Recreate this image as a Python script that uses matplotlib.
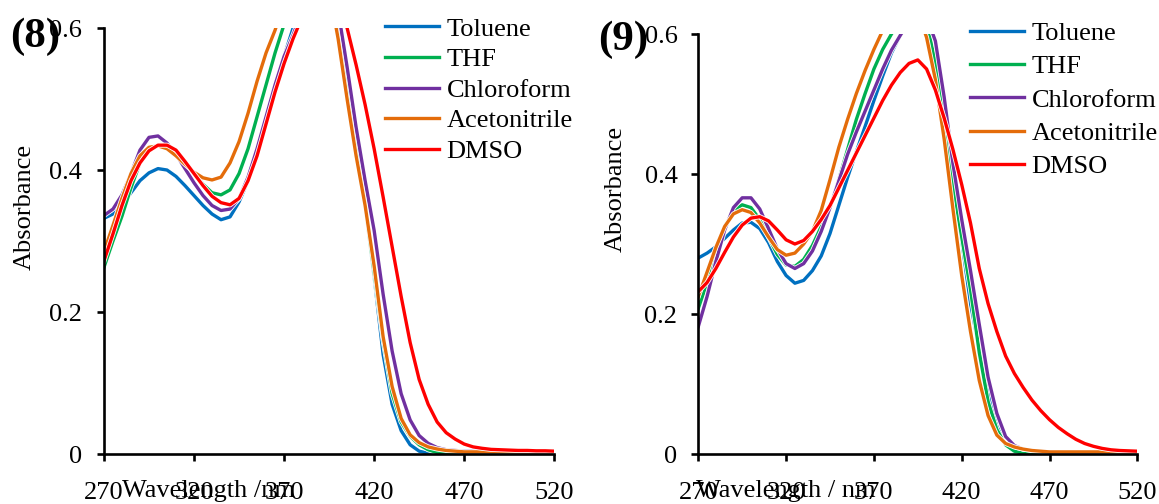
import numpy as np
import matplotlib
matplotlib.use("Agg")
import matplotlib.pyplot as plt
import matplotlib.patheffects as pe

plt.rcParams['font.family'] = ['Liberation Serif', 'DejaVu Serif']
plt.rcParams['font.size'] = 19

# wavelength grid (nm)
wl = np.arange(270, 521, 5)

solvents = ['Toluene', 'THF', 'Chloroform', 'Acetonitrile', 'DMSO']
colors = ['#0070C0', '#00B050', '#7030A0', '#E46C0A', '#FF0000']

# ---- compound (8) ----
tol_8 = [0.332, 0.338, 0.350, 0.368, 0.385, 0.396, 0.402, 0.400, 0.391, 0.378,
         0.364, 0.350, 0.338, 0.330, 0.334, 0.355, 0.385, 0.430, 0.475, 0.520,
         0.560, 0.600, 0.635, 0.660, 0.670, 0.655, 0.600, 0.515, 0.435, 0.350,
         0.250, 0.140, 0.070, 0.033, 0.013, 0.004, 0.001, 0.000, 0.000, 0.000,
         0.000, 0.000, 0.000, 0.000, 0.000, 0.000, 0.000, 0.000, 0.000, 0.000, 0.000]
thf_8 = [0.263, 0.300, 0.335, 0.375, 0.410, 0.430, 0.435, 0.433, 0.425, 0.410,
         0.395, 0.380, 0.368, 0.365, 0.372, 0.395, 0.430, 0.475, 0.520, 0.565,
         0.605, 0.645, 0.680, 0.700, 0.700, 0.670, 0.605, 0.520, 0.435, 0.350,
         0.255, 0.160, 0.085, 0.045, 0.025, 0.013, 0.006, 0.002, 0.001, 0.000,
         0.000, 0.000, 0.000, 0.000, 0.000, 0.000, 0.000, 0.000, 0.000, 0.000, 0.000]
chl_8 = [0.336, 0.345, 0.365, 0.395, 0.428, 0.446, 0.448, 0.438, 0.422, 0.402,
         0.382, 0.364, 0.350, 0.343, 0.345, 0.360, 0.390, 0.430, 0.475, 0.520,
         0.560, 0.590, 0.625, 0.655, 0.670, 0.665, 0.625, 0.545, 0.460, 0.385,
         0.315, 0.225, 0.145, 0.085, 0.048, 0.026, 0.015, 0.009, 0.006, 0.005,
         0.004, 0.004, 0.004, 0.004, 0.004, 0.004, 0.004, 0.004, 0.004, 0.004, 0.004]
ace_8 = [0.285, 0.322, 0.360, 0.395, 0.420, 0.432, 0.434, 0.430, 0.420, 0.408,
         0.397, 0.389, 0.386, 0.390, 0.410, 0.440, 0.480, 0.525, 0.565, 0.597,
         0.635, 0.670, 0.690, 0.700, 0.690, 0.655, 0.585, 0.500, 0.420, 0.350,
         0.265, 0.165, 0.095, 0.050, 0.027, 0.016, 0.010, 0.007, 0.005, 0.004,
         0.003, 0.003, 0.003, 0.003, 0.003, 0.003, 0.003, 0.003, 0.003, 0.003, 0.003]
dms_8 = [0.272, 0.310, 0.350, 0.385, 0.410, 0.427, 0.435, 0.435, 0.428, 0.412,
         0.395, 0.378, 0.363, 0.354, 0.351, 0.360, 0.385, 0.420, 0.465, 0.510,
         0.550, 0.585, 0.615, 0.640, 0.655, 0.655, 0.640, 0.600, 0.548, 0.492,
         0.430, 0.362, 0.292, 0.222, 0.157, 0.105, 0.070, 0.045, 0.030, 0.021,
         0.014, 0.010, 0.008, 0.0065, 0.006, 0.0055, 0.005, 0.005, 0.0045, 0.0045, 0.004]

# ---- compound (9) ----
tol_9 = [0.280, 0.287, 0.296, 0.308, 0.320, 0.330, 0.331, 0.322, 0.302, 0.275,
         0.255, 0.244, 0.248, 0.262, 0.283, 0.315, 0.355, 0.395, 0.432, 0.468,
         0.505, 0.540, 0.573, 0.598, 0.618, 0.625, 0.610, 0.565, 0.490, 0.400,
         0.305, 0.215, 0.150, 0.087, 0.040, 0.014, 0.003, 0.0005, 0.000, 0.000,
         0.000, 0.000, 0.000, 0.000, 0.000, 0.000, 0.000, 0.000, 0.000, 0.000, 0.000]
thf_9 = [0.208, 0.245, 0.290, 0.325, 0.347, 0.356, 0.352, 0.335, 0.310, 0.285,
         0.270, 0.268, 0.278, 0.298, 0.325, 0.352, 0.392, 0.435, 0.478, 0.515,
         0.550, 0.578, 0.600, 0.620, 0.635, 0.635, 0.615, 0.560, 0.475, 0.385,
         0.310, 0.235, 0.145, 0.075, 0.035, 0.013, 0.004, 0.001, 0.000, 0.000,
         0.000, 0.000, 0.000, 0.000, 0.000, 0.000, 0.000, 0.000, 0.000, 0.000, 0.000]
chl_9 = [0.182, 0.225, 0.275, 0.320, 0.352, 0.366, 0.366, 0.350, 0.322, 0.293,
         0.272, 0.265, 0.272, 0.290, 0.318, 0.352, 0.390, 0.428, 0.460, 0.490,
         0.520, 0.550, 0.577, 0.598, 0.618, 0.630, 0.625, 0.590, 0.510, 0.415,
         0.335, 0.262, 0.185, 0.110, 0.058, 0.025, 0.012, 0.007, 0.005, 0.004,
         0.003, 0.003, 0.003, 0.003, 0.003, 0.003, 0.003, 0.003, 0.003, 0.003, 0.003]
ace_9 = [0.225, 0.260, 0.295, 0.325, 0.343, 0.349, 0.345, 0.330, 0.310, 0.292,
         0.284, 0.287, 0.300, 0.318, 0.348, 0.392, 0.438, 0.478, 0.515, 0.548,
         0.578, 0.605, 0.625, 0.640, 0.645, 0.632, 0.595, 0.535, 0.450, 0.350,
         0.255, 0.175, 0.105, 0.055, 0.027, 0.015, 0.010, 0.007, 0.005, 0.004,
         0.003, 0.003, 0.003, 0.003, 0.003, 0.003, 0.003, 0.003, 0.003, 0.003, 0.003]
dms_9 = [0.232, 0.245, 0.265, 0.288, 0.310, 0.327, 0.337, 0.339, 0.333, 0.320,
         0.306, 0.300, 0.305, 0.318, 0.335, 0.355, 0.380, 0.405, 0.430, 0.455,
         0.480, 0.505, 0.527, 0.545, 0.558, 0.563, 0.550, 0.520, 0.480, 0.435,
         0.385, 0.330, 0.265, 0.215, 0.175, 0.140, 0.115, 0.095, 0.077, 0.062,
         0.049, 0.038, 0.029, 0.021, 0.015, 0.011, 0.008, 0.006, 0.005, 0.0045, 0.004]

panels = [
    dict(tag='(8)', data=[tol_8, thf_8, chl_8, ace_8, dms_8],
         rect=[0.0897, 0.0992, 0.3885, 0.8452], xlab='Wavelength /nm', xlab_x=0.232,
         ylab_xy=(-0.152, 0.581), ypad=11,
         leg_xy=(0.3322, 0.966), leg_sp=0.27, tag_xy=(0.0086, 0.927)),
    dict(tag='(9)', data=[tol_9, thf_9, chl_9, ace_9, dms_9],
         rect=[0.6025, 0.0992, 0.3788, 0.8333], xlab='Wavelength / nm', xlab_x=0.199,
         ylab_xy=(-0.162, 0.632), ypad=10,
         leg_xy=(0.8369, 0.957), leg_sp=0.37, tag_xy=(0.516, 0.921)),
]

fig = plt.figure(figsize=(11.59, 5.04), dpi=100)

for p in panels:
    ax = fig.add_axes(p['rect'])
    for name, col, y in zip(solvents, colors, p['data']):
        ax.plot(wl, y, color=col, lw=2.4, label=name, solid_joinstyle='round',
                path_effects=[pe.Stroke(linewidth=3.6, foreground='white'), pe.Normal()])

    ax.set_xlim(270, 520)
    ax.set_ylim(0, 0.6)
    ax.set_xticks(np.arange(270, 521, 50))
    ax.set_yticks([0, 0.2, 0.4, 0.6])
    ax.set_yticklabels(['0', '0.2', '0.4', '0.6'])
    for s in ['top', 'right']:
        ax.spines[s].set_visible(False)
    for s in ['left', 'bottom']:
        ax.spines[s].set_linewidth(1.9)
    ax.tick_params(direction='out', length=5, width=1.9, labelsize=19)
    ax.tick_params(axis='x', pad=15)
    ax.tick_params(axis='y', pad=p['ypad'])

    ax.set_ylabel('Absorbance', fontsize=19)
    ax.yaxis.set_label_coords(*p['ylab_xy'])
    ax.text(p['xlab_x'], -0.088, p['xlab'], transform=ax.transAxes,
            ha='center', va='center', fontsize=19)

    ax.legend(loc='upper left', bbox_to_anchor=p['leg_xy'], bbox_transform=fig.transFigure,
              frameon=False, fontsize=19, handlelength=2.05, handletextpad=0.28,
              labelspacing=p['leg_sp'], borderpad=0, borderaxespad=0)

    fig.text(p['tag_xy'][0], p['tag_xy'][1], p['tag'], fontsize=31, fontweight='bold',
             ha='left', va='center')

fig.savefig('out.png', dpi=100)
